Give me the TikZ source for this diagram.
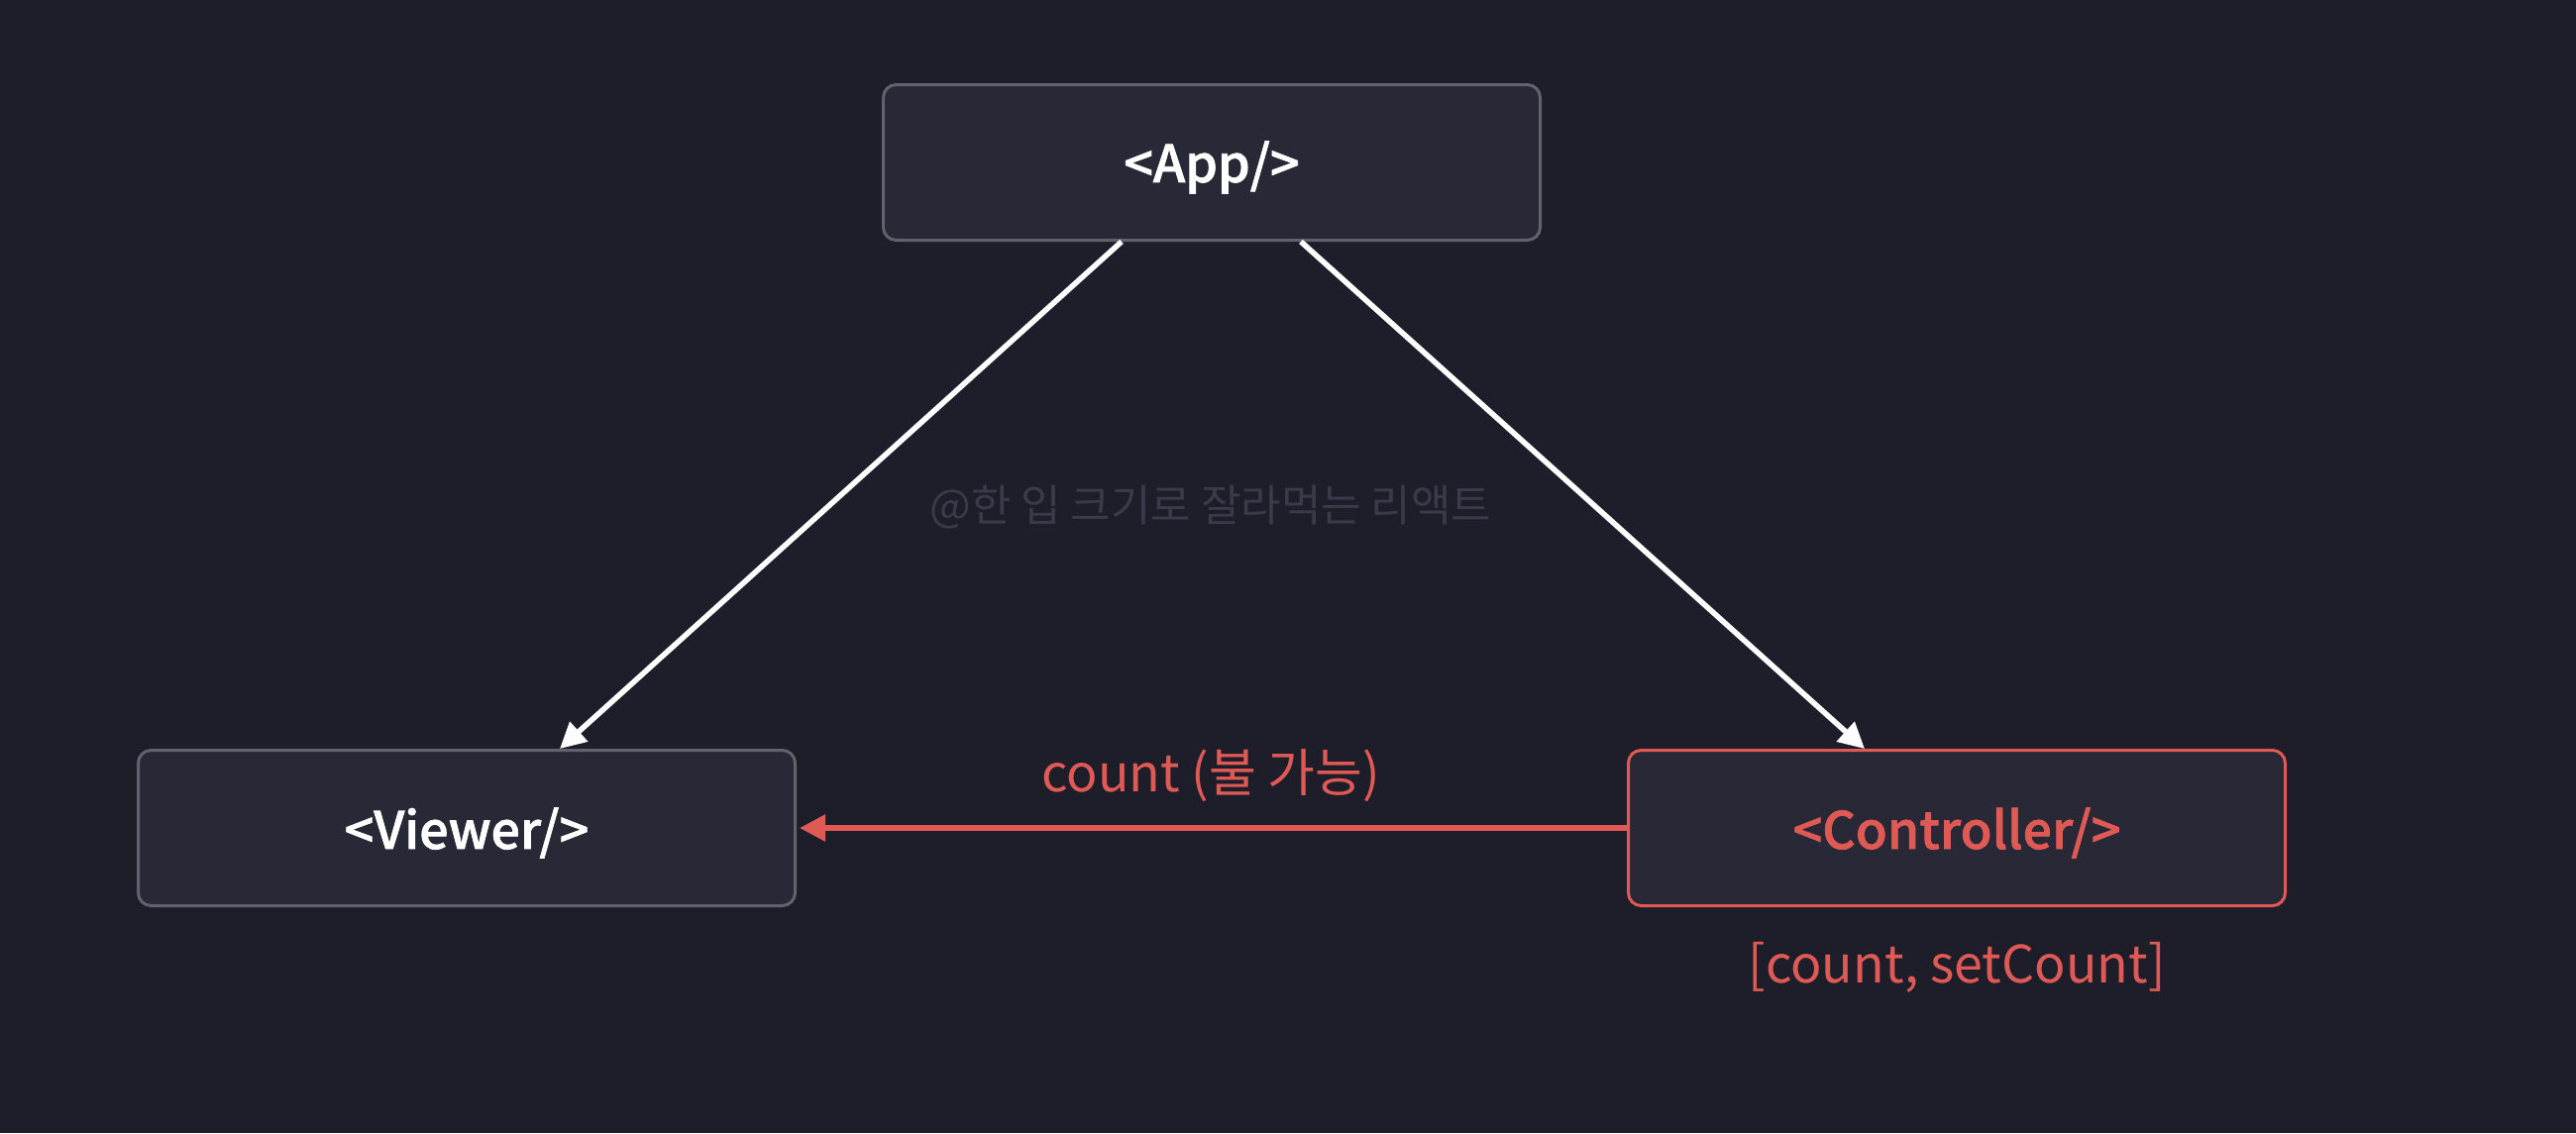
\documentclass[tikz,border=0pt]{standalone}
\usepackage{fontspec}
\setmainfont{Noto Sans CJK KR}
\newfontfamily\krmed{Noto Sans CJK KR Medium}[FakeBold=1.3]
\usetikzlibrary{arrows.meta}
\definecolor{bg}{HTML}{1E1E2B}
\definecolor{boxfill}{HTML}{282836}
\definecolor{boxline}{HTML}{62626E}
\definecolor{redc}{HTML}{E05A55}
\definecolor{wmark}{HTML}{3A3A48}
\newcommand{\boxtxt}[1]{\raisebox{-5pt}[\height][\depth]{#1}}
\tikzset{
  comp/.style={draw=boxline, fill=boxfill, line width=3pt, rounded corners=13pt,
    minimum width=663pt, minimum height=157pt, inner sep=0pt, text=white,
    font=\krmed\fontsize{52}{56}\selectfont},
  redcomp/.style={comp, draw=redc, text=redc},
  arr/.style={draw=white, line width=5.5pt, -{Triangle[length=26pt,width=26pt]}},
  redarr/.style={draw=redc, line width=5.5pt, -{Triangle[length=26pt,width=26pt]}},
  lbl/.style={text=redc, font=\fontsize{52}{56}\selectfont, inner sep=0pt},
  wm/.style={text=wmark, font=\fontsize{44}{48}\selectfont, inner sep=0pt}
}
\begin{document}
\begin{tikzpicture}[x=1pt,y=-1pt]
\fill[bg] (0,0) rectangle (2600,1144);
\useasboundingbox (0,0) rectangle (2600,1144);
\node[comp] (app) at (1223,164) {\boxtxt{<App/>}};
\node[comp] (viewer) at (471,836) {\boxtxt{<Viewer/>}};
\node[redcomp] (ctrl) at (1975,836) {\boxtxt{<Controller/>}};
\node[wm] (wmk) at (1222,512) {@한 입 크기로 잘라먹는 리액트};
\node[lbl] (cnt) at (1222,783) {count (불 가능)};
\node[lbl] (state) at (1975,977) {[count, setCount]};
\draw[arr] ([xshift=-91pt]app.south) -- ([xshift=94pt]viewer.north);
\draw[arr] ([xshift=90pt]app.south) -- ([xshift=-93pt]ctrl.north);
\draw[redarr] (ctrl.west) -- ([xshift=3pt]viewer.east);
\end{tikzpicture}
\end{document}
